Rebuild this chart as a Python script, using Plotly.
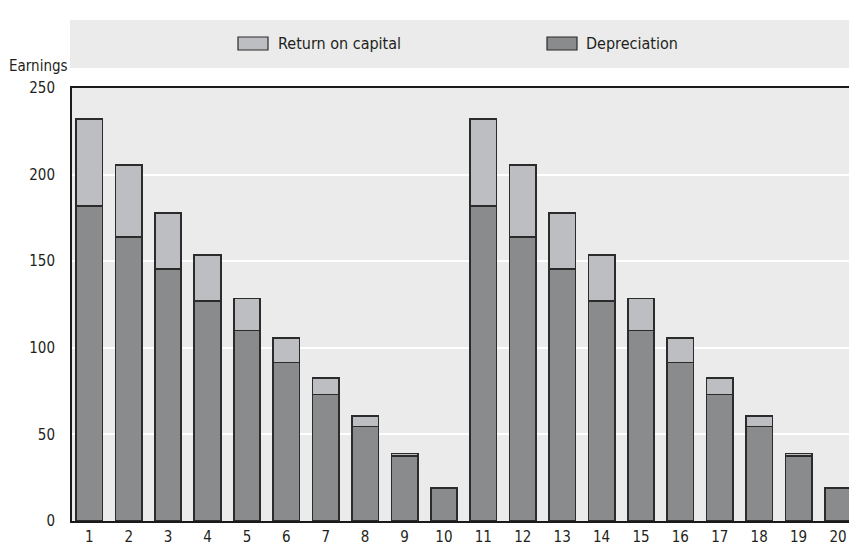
import plotly.graph_objects as go

# Earnings per year, split into depreciation and return on capital
years = list(range(1, 21))
depreciation = [182, 164, 145.5, 127, 110, 91.5, 73, 54.5, 37.5, 19,
                182, 164, 145.5, 127, 110, 91.5, 73, 54.5, 37.5, 19]
return_on_capital = [50, 41.5, 32.5, 26.5, 18.5, 14, 9.5, 6, 1.5, 0,
                     50, 41.5, 32.5, 26.5, 18.5, 14, 9.5, 6, 1.5, 0]
y_ticks = [0, 50, 100, 150, 200, 250]

W, H = 849, 547
ML, MR, MT, MB = 72, 0, 88, 26
PW, PH = W - ML - MR, H - MT - MB

FONT = "Liberation Sans Narrow, DejaVu Sans Condensed, Arial Narrow, sans-serif"
TXT = "#231f20"
C_RET = "#bdbec2"
C_DEP = "#8a8b8d"
C_EDGE = "#2b2b2b"
BG = "#eaebea"


def px_x(p):
    return (p - ML) / PW


def px_y(p):
    return (H - MB - p) / PH


fig = go.Figure()
fig.add_trace(go.Bar(x=years, y=depreciation, name="Depreciation",
                     marker=dict(color=C_DEP, line=dict(color=C_EDGE, width=1.7)),
                     width=0.67, showlegend=False))
fig.add_trace(go.Bar(x=years, y=return_on_capital, name="Return on capital",
                     marker=dict(color=C_RET, line=dict(color=C_EDGE, width=1.7)),
                     width=0.67, showlegend=False))

shapes = [
    # legend band
    dict(type="rect", xref="paper", yref="paper", x0=px_x(70), x1=1.0,
         y0=px_y(68), y1=px_y(20), fillcolor=BG, line=dict(width=0), layer="below"),
    dict(type="rect", xref="paper", yref="paper", x0=px_x(238), x1=px_x(268),
         y0=px_y(50), y1=px_y(37), fillcolor=C_RET, line=dict(color=C_EDGE, width=1.2)),
    dict(type="rect", xref="paper", yref="paper", x0=px_x(547), x1=px_x(577),
         y0=px_y(50), y1=px_y(37), fillcolor=C_DEP, line=dict(color=C_EDGE, width=1.2)),
]

annotations = [
    dict(text="Return on capital", xref="paper", yref="paper", x=px_x(276), y=px_y(43.5),
         xanchor="left", yanchor="middle", showarrow=False, font=dict(size=16, color=TXT)),
    dict(text="Depreciation", xref="paper", yref="paper", x=px_x(584), y=px_y(43.5),
         xanchor="left", yanchor="middle", showarrow=False, font=dict(size=16, color=TXT)),
    dict(text="Earnings", xref="paper", yref="paper", x=px_x(7), y=px_y(66),
         xanchor="left", yanchor="middle", showarrow=False, font=dict(size=15, color=TXT)),
]

fig.update_layout(
    width=W, height=H,
    margin=dict(l=ML, r=MR, t=MT, b=MB, pad=0),
    barmode="stack",
    paper_bgcolor="white",
    plot_bgcolor=BG,
    font=dict(family=FONT, size=15, color=TXT),
    shapes=shapes,
    annotations=annotations,
    showlegend=False,
    xaxis=dict(range=[0.56, 20.28], tickmode="array", tickvals=years,
               ticktext=[str(v) for v in years], showgrid=False, zeroline=False,
               showline=True, linecolor="#1a1a1a", linewidth=2, mirror=True,
               ticks="", ticklabelstandoff=1, tickfont=dict(size=15),
               automargin=False),
    yaxis=dict(range=[0, 250], tickmode="array", tickvals=y_ticks,
               showgrid=True, gridcolor="white", gridwidth=2, zeroline=False,
               showline=True, linecolor="#1a1a1a", linewidth=2,
               ticks="", ticklabelstandoff=12, tickfont=dict(size=15),
               automargin=False),
)

fig.write_html("out.html")
